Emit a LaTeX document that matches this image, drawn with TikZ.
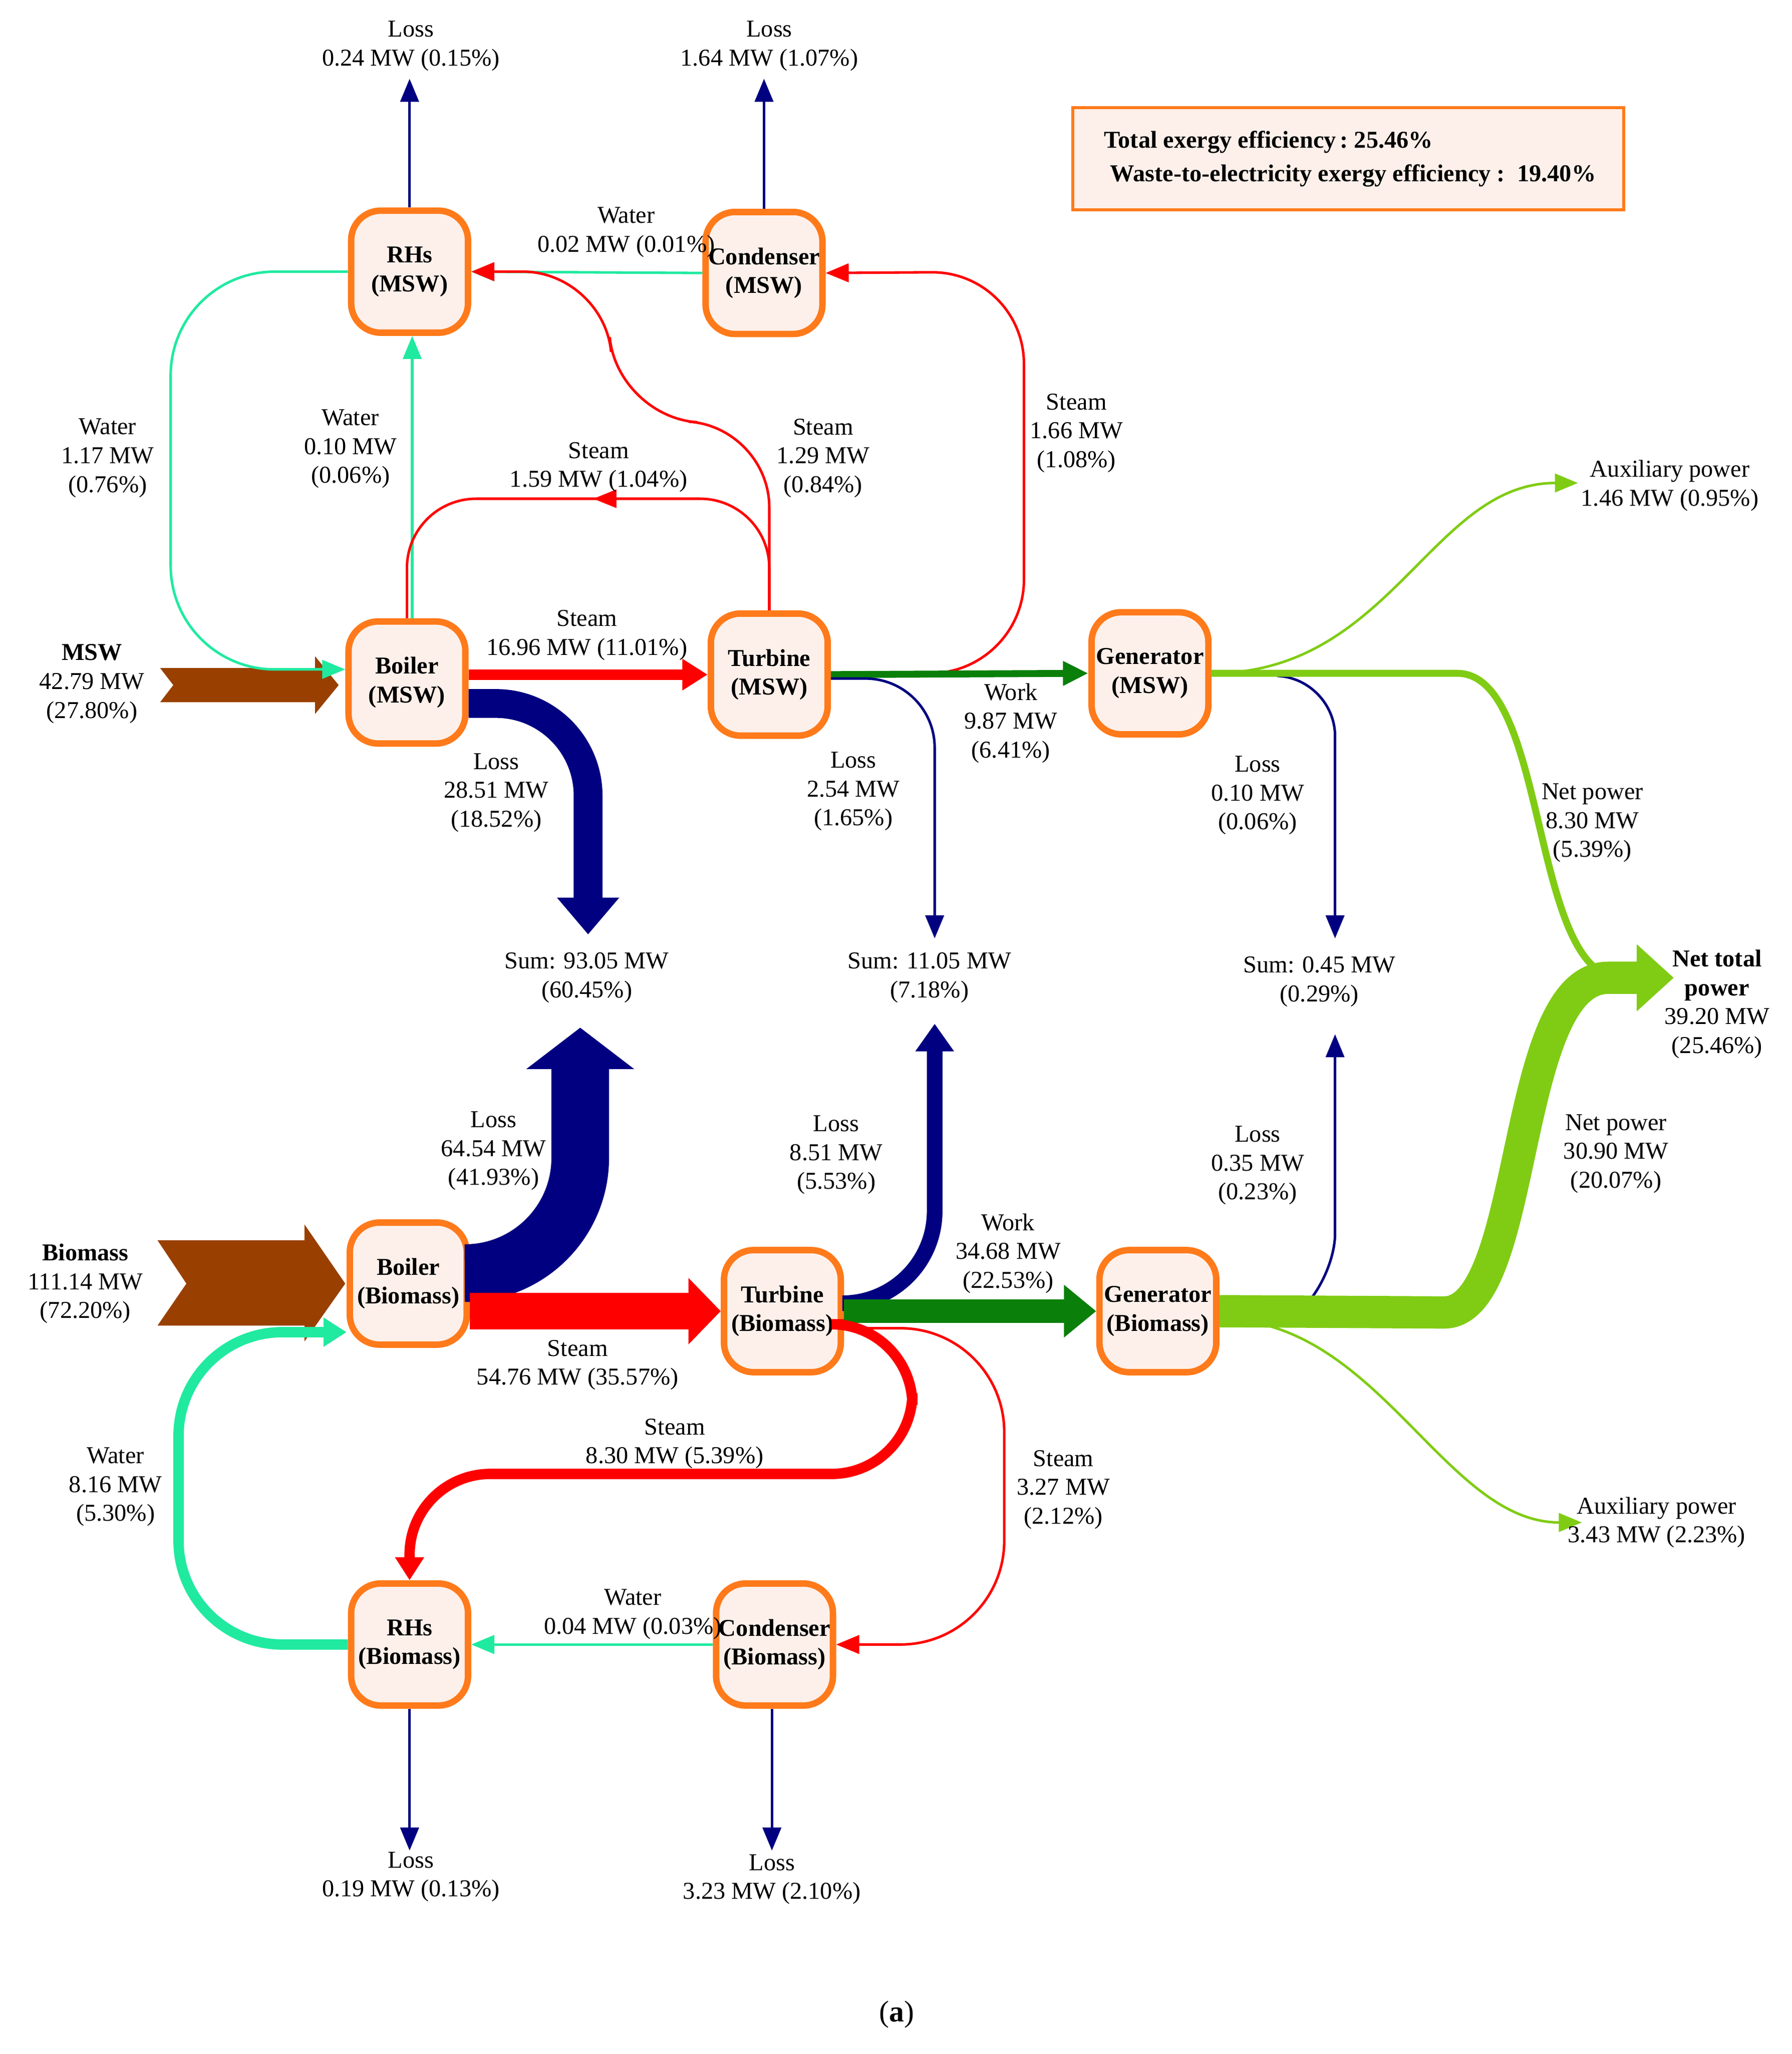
\documentclass[tikz,border=0pt]{standalone}
\usepackage{fontspec}
\setmainfont{Liberation Serif}
\usetikzlibrary{arrows.meta,calc}
\definecolor{cnavy}{HTML}{000080}
\definecolor{cred}{HTML}{FF0000}
\definecolor{cbrown}{HTML}{994000}
\definecolor{cwater}{HTML}{20EAA0}
\definecolor{cdg}{HTML}{0A800A}
\definecolor{clg}{HTML}{80CC14}
\definecolor{corange}{HTML}{FF7A1A}
\definecolor{cfill}{HTML}{FDF0EA}
\begin{document}
\begin{tikzpicture}[x=0.02cm,y=-0.02cm,font=\fontsize{10.5}{12.5}\selectfont,
box/.style={draw=corange,fill=cfill,line width=2.8pt,rounded corners=0.45cm,minimum width=1.78cm,minimum height=1.86cm,align=center,font=\fontsize{10.5}{12.5}\selectfont\bfseries,inner sep=0pt},
lbl/.style={align=center,inner sep=1pt},
thinav/.style={draw=cnavy,line width=1.1pt,-{Triangle[width=8pt,length=10pt]}},
thired/.style={draw=cred,line width=1.1pt,-{Triangle[width=8pt,length=10pt]}},
thiwat/.style={draw=cwater,line width=1.1pt,-{Triangle[width=8pt,length=10pt]}},
thilg/.style={draw=clg,line width=1.1pt,-{Triangle[width=8pt,length=10pt]}}]
\useasboundingbox (0,0) rectangle (1365,1565);
% nodes
\node[box] (rm) at (312,207) {RHs\\(MSW)};
\node[box] (cm) at (582,208) {Condenser\\(MSW)};
\node[box] (bm) at (310,520) {Boiler\\(MSW)};
\node[box] (tm) at (586,514) {Turbine\\(MSW)};
\node[box] (gm) at (876,513) {Generator\\(MSW)};
\node[box] (bb) at (311,978) {Boiler\\(Biomass)};
\node[box] (tb) at (596,999) {Turbine\\(Biomass)};
\node[box] (gb) at (882,999) {Generator\\(Biomass)};
\node[box] (rb) at (312,1253) {RHs\\(Biomass)};
\node[box] (cb) at (590,1253) {Condenser\\(Biomass)};
\node[draw=corange,fill=cfill,line width=1.3pt,minimum width=8.4cm,minimum height=1.56cm,inner sep=0pt] (eff) at (1027,121) {};
\node[align=left,font=\fontsize{10.5}{14.5}\selectfont\bfseries,anchor=west] (efft) at (835,121) {Total exergy efficiency\,:\ 25.46\%\\ \ Waste-to-electricity exergy efficiency\ :\ \ 19.40\%};
% coordinates
\coordinate (lrm) at (312,60);
\coordinate (lcm) at (582,60);
\coordinate (lrb) at (312,1410);
\coordinate (lcb) at (588,1410);
\coordinate (s1) at (448,712);
\coordinate (s2) at (712,715);
\coordinate (s3) at (1017,715);
\coordinate (s1b) at (442,783);
\coordinate (s2b) at (712,780);
\coordinate (s3b) at (1017,788);
\coordinate (ntp) at (1275,745);
\coordinate (aux1) at (1202,368);
\coordinate (aux2) at (1205,1160);
% inputs
\fill[cbrown] (122,509)--(240,509)--(240,500)--(258,522)--(240,544)--(240,535)--(122,535)--(132,522)--cycle;
\fill[cbrown] (120,945)--(232,945)--(232,933)--(263,978)--(232,1022)--(232,1010)--(120,1010)--(142,978)--cycle;
% losses top/bottom
\draw[thinav] (rm.north) -- (lrm);
\draw[thinav] (cm.north) -- (lcm);
\draw[thinav] (rb.south) -- (lrb);
\draw[thinav] (cb.south-|lcb) -- (lcb);
% MSW steam/water
\draw[draw=cred,line width=4.5pt,-{Triangle[width=13pt,length=11pt]}] (bm.east|-tm.west) -- (tm.west);
\draw[draw=cnavy,line width=12.5pt,rounded corners=40,-{Triangle[width=26pt,length=16pt]}] ($(bm.east)+(0,16)$) -- (448,536) -- (s1);
\draw[thiwat] (cm.west) -- (rm.east);
\draw[thiwat] (bm.north-|314,0) -- (rm.south-|314,0);
\draw[thiwat,rounded corners=45] (rm.west) -- (130,207) -- (130,510) -- (bm.west|-0,510);
\draw[thired,rounded corners=35] (tm.north) -- (586,325) -- (470,318) -- (460,207) -- (rm.east);
\draw[draw=cred,line width=1.1pt,rounded corners=30] (tm.north) -- (586,380) -- (310,380) -- (bm.north-|310,0);
\draw[draw=cred,-{Triangle[width=8pt,length=10pt]}] (470,380) -- (452,380);
\draw[thired,rounded corners=40] (tm.east) -- (780,512) -- (780,207) -- (cm.east);
\draw[draw=cdg,line width=3pt,-{Triangle[width=10pt,length=11pt]}] (tm.east) -- (gm.west);
\draw[thinav,rounded corners=30] ($(tm.east)+(0,3)$) -- (712,517) -- (s2);
% generator MSW
\draw[thilg] (gm.east) .. controls (1060,513) and (1090,368) .. (aux1);
\draw[thinav,rounded corners=25] ($(gm.east)+(50,2)$) -- (1017,517) -- (s3);
\draw[draw=clg,line width=3pt] (gm.east) -- (1110,513) .. controls (1180,513) and (1165,745) .. (1235,745);
% biomass
\draw[draw=cnavy,line width=25pt,rounded corners=50,-{Triangle[width=46pt,length=18pt]}] ($(bb.east)+(0,-8)$) -- (442,970) -- (s1b);
\draw[draw=cred,line width=16pt,-{Triangle[width=28pt,length=14pt]}] (bb.east|-tb.west) -- (tb.west);
\draw[draw=cnavy,line width=6.8pt,rounded corners=40,-{Triangle[width=16pt,length=12pt]}] ($(tb.east)+(0,-6)$) -- (712,993) -- (s2b);
\draw[draw=cdg,line width=10pt,-{Triangle[width=22pt,length=14pt]}] (tb.east) -- (gb.west);
\draw[draw=cred,line width=4.5pt,rounded corners=35,-{Triangle[width=12pt,length=10pt]}] ($(tb.east)+(0,10)$) -- (695,1009) -- (695,1123) -- (312,1123) -- (rb.north);
\draw[thired,rounded corners=45] ($(tb.east)+(0,13)$) -- (765,1012) -- (765,1253) -- (cb.east);
\draw[thiwat] (cb.west) -- (rb.east);
\draw[draw=cwater,line width=4.5pt,rounded corners=45,-{Triangle[width=12pt,length=10pt]}] (rb.west) -- (136,1253) -- (136,1015) -- (bb.west|-0,1015);
% generator biomass
\draw[thilg] ($(gb.east)+(0,6)$) .. controls (1050,1005) and (1100,1160) .. (aux2);
\draw[thinav,rounded corners=20] (1000,990) -- (1017,975) -- (s3b);
\draw[draw=clg,line width=14pt,-{Triangle[width=28pt,length=16pt]}] (gb.east) -- (1100,1000) .. controls (1165,1000) and (1150,745) .. (1225,745) -- (ntp);
% labels
\node[lbl] (l1) at (313,35) {Loss\\0.24 MW (0.15\%)};
\node[lbl] (l2) at (586,35) {Loss\\1.64 MW (1.07\%)};
\node[lbl] (l3) at (477,177) {Water\\0.02 MW (0.01\%)};
\node[lbl] (l4) at (82,349) {Water\\1.17 MW\\(0.76\%)};
\node[lbl] (l5) at (267,342) {Water\\0.10 MW\\(0.06\%)};
\node[lbl] (l6) at (456,356) {Steam\\1.59 MW (1.04\%)};
\node[lbl] (l7) at (627,349) {Steam\\1.29 MW\\(0.84\%)};
\node[lbl] (l8) at (820,330) {Steam\\1.66 MW\\(1.08\%)};
\node[lbl] (l9) at (1272,370) {Auxiliary power\\1.46 MW (0.95\%)};
\node[lbl] (l10) at (70,521) {\textbf{MSW}\\42.79 MW\\(27.80\%)};
\node[lbl] (l11) at (447,484) {Steam\\16.96 MW (11.01\%)};
\node[lbl] (l12) at (770,551) {Work\\9.87 MW\\(6.41\%)};
\node[lbl] (l13) at (378,604) {Loss\\28.51 MW\\(18.52\%)};
\node[lbl] (l14) at (650,603) {Loss\\2.54 MW\\(1.65\%)};
\node[lbl] (l15) at (958,606) {Loss\\0.10 MW\\(0.06\%)};
\node[lbl] (l16) at (1213,627) {Net power\\8.30 MW\\(5.39\%)};
\node[lbl] (l17) at (447,745) {Sum: 93.05 MW\\(60.45\%)};
\node[lbl] (l18) at (708,745) {Sum: 11.05 MW\\(7.18\%)};
\node[lbl] (l19) at (1005,748) {Sum: 0.45 MW\\(0.29\%)};
\node[lbl] (l20) at (1308,765) {\textbf{Net total}\\\textbf{power}\\39.20 MW\\(25.46\%)};
\node[lbl] (l21) at (376,877) {Loss\\64.54 MW\\(41.93\%)};
\node[lbl] (l22) at (637,880) {Loss\\8.51 MW\\(5.53\%)};
\node[lbl] (l23) at (958,888) {Loss\\0.35 MW\\(0.23\%)};
\node[lbl] (l24) at (1231,879) {Net power\\30.90 MW\\(20.07\%)};
\node[lbl] (l25) at (768,955) {Work\\34.68 MW\\(22.53\%)};
\node[lbl] (l26) at (65,978) {\textbf{Biomass}\\111.14 MW\\(72.20\%)};
\node[lbl] (l27) at (440,1040) {Steam\\54.76 MW (35.57\%)};
\node[lbl] (l28) at (514,1100) {Steam\\8.30 MW (5.39\%)};
\node[lbl] (l29) at (810,1135) {Steam\\3.27 MW\\(2.12\%)};
\node[lbl] (l30) at (1262,1160) {Auxiliary power\\3.43 MW (2.23\%)};
\node[lbl] (l31) at (88,1133) {Water\\8.16 MW\\(5.30\%)};
\node[lbl] (l32) at (482,1230) {Water\\0.04 MW (0.03\%)};
\node[lbl] (l33) at (313,1430) {Loss\\0.19 MW (0.13\%)};
\node[lbl] (l34) at (588,1432) {Loss\\3.23 MW (2.10\%)};
\node[lbl,font=\fontsize{13}{15}\selectfont] (l35) at (683,1535) {(\textbf{a})};
\end{tikzpicture}
\end{document}
